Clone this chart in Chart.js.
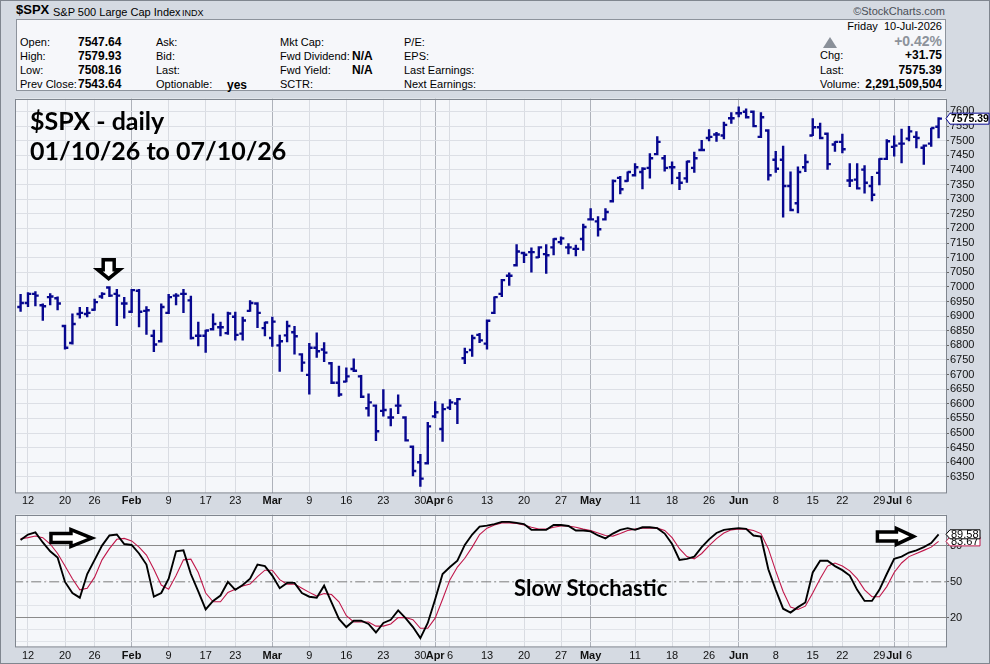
<!DOCTYPE html>
<html>
<head>
<meta charset="utf-8">
<title>$SPX daily</title>
<script src="https://cdn.jsdelivr.net/npm/chart.js@4.4.1/dist/chart.umd.min.js"></script>
<style>
  html, body { margin: 0; padding: 0; }
  body { width: 990px; height: 664px; position: relative; overflow: hidden;
         background: #d5dae2; font-family: "Liberation Sans", Arial, sans-serif; color: #000; }
  .abs { position: absolute; white-space: nowrap; }
  .lbl { font-size: 11px; line-height: 14px; }
  .val { font-size: 12px; font-weight: bold; line-height: 14px; }
  .note { font-family: Lato, "Open Sans", sans-serif; font-weight: bold; line-height: 1; }
  #frame { left: 0; top: 0; width: 988px; height: 662px; border: 1px solid #80868f; }
  #info { left: 16px; top: 19px; width: 928px; height: 70px; background: #f6f7fa; border: 1px solid #8d939c; }
  #priceBox { left: 0; top: 91px; width: 990px; height: 416px; }
  #stochBox { left: 0; top: 507px; width: 990px; height: 157px; }
</style>
</head>
<body>
<div id="frame" class="abs"></div>
<div id="info" class="abs"></div>

<div class="abs" style="left:16px;top:2px;font-size:13px;font-weight:bold;line-height:16px">$SPX</div>
<div class="abs" style="left:53px;top:4px;font-size:11px;line-height:16px">S&amp;P 500 Large Cap Index</div>
<div class="abs" style="left:182px;top:6px;font-size:9px;line-height:14px">INDX</div>
<div class="abs" style="right:45px;top:4px;font-size:11px;line-height:14px;color:#4a4f57">&copy;StockCharts.com</div>

<div class="abs lbl" style="left:20px;top:35px">Open:</div>
<div class="abs lbl" style="left:20px;top:49px">High:</div>
<div class="abs lbl" style="left:20px;top:63px">Low:</div>
<div class="abs lbl" style="left:20px;top:77px">Prev Close:</div>
<div class="abs val" style="left:78px;top:35px">7547.64</div>
<div class="abs val" style="left:78px;top:49px">7579.93</div>
<div class="abs val" style="left:78px;top:63px">7508.16</div>
<div class="abs val" style="left:78px;top:77px">7543.64</div>

<div class="abs lbl" style="left:156px;top:35px">Ask:</div>
<div class="abs lbl" style="left:156px;top:49px">Bid:</div>
<div class="abs lbl" style="left:156px;top:63px">Last:</div>
<div class="abs lbl" style="left:156px;top:77px">Optionable:</div>
<div class="abs val" style="left:227px;top:78px">yes</div>

<div class="abs lbl" style="left:280px;top:35px">Mkt Cap:</div>
<div class="abs lbl" style="left:280px;top:49px">Fwd Dividend:</div>
<div class="abs lbl" style="left:280px;top:63px">Fwd Yield:</div>
<div class="abs lbl" style="left:280px;top:77px">SCTR:</div>
<div class="abs val" style="left:352px;top:49px">N/A</div>
<div class="abs val" style="left:352px;top:63px">N/A</div>

<div class="abs lbl" style="left:404px;top:35px">P/E:</div>
<div class="abs lbl" style="left:404px;top:49px">EPS:</div>
<div class="abs lbl" style="left:404px;top:63px">Last Earnings:</div>
<div class="abs lbl" style="left:404px;top:77px">Next Earnings:</div>

<div class="abs lbl" style="right:48px;top:19px">Friday&nbsp;&nbsp;10-Jul-2026</div>
<div class="abs" style="left:823px;top:37px;width:0;height:0;border-left:7px solid transparent;border-right:7px solid transparent;border-bottom:11px solid #8a9099"></div>
<div class="abs" style="right:48px;top:33px;font-size:14px;font-weight:bold;line-height:16px;color:#8c929b">+0.42%</div>
<div class="abs lbl" style="left:820px;top:48px">Chg:</div>
<div class="abs lbl" style="left:820px;top:63px">Last:</div>
<div class="abs lbl" style="left:820px;top:77px">Volume:</div>
<div class="abs val" style="right:48px;top:48px">+31.75</div>
<div class="abs val" style="right:48px;top:63px">7575.39</div>
<div class="abs val" style="right:48px;top:77px">2,291,509,504</div>

<div id="priceBox" class="abs"><canvas id="price"></canvas></div>
<div id="stochBox" class="abs"><canvas id="stoch"></canvas></div>

<div class="abs note" style="left:30px;top:108px;font-size:25px">$SPX - daily</div>
<div class="abs note" style="left:30px;top:138px;font-size:25px">01/10/26 to 07/10/26</div>
<div class="abs note" style="left:514px;top:577px;font-size:22px">Slow Stochastic</div>

<script>
// trading days 09-Jan-2026 .. 10-Jul-2026, one entry per session
const opens = [6931, 6945, 6976, 6937, 6965, 6961, 6866, 6808, 6907, 6907,
  6922, 6967, 6998, 6976, 6943, 6915, 6987, 6918, 6833, 6814,
  6911, 6970, 6976, 6954, 6833, 6833, 6855, 6862, 6842, 6898,
  6840, 6918, 6943, 6859, 6825, 6800, 6834, 6845, 6769, 6699,
  6792, 6786, 6739, 6672, 6676, 6719, 6694, 6585, 6594, 6576,
  6553, 6594, 6553, 6453, 6400, 6397, 6557, 6514, 6587, 6601,
  6756, 6784, 6836, 6806, 6911, 6976, 7038, 7074, 7116, 7119,
  7101, 7112, 7135, 7153, 7135, 7130, 7164, 7231, 7224, 7231,
  7293, 7373, 7362, 7382, 7393, 7407, 7454, 7440, 7409, 7373,
  7371, 7407, 7468, 7509, 7521, 7518, 7577, 7594, 7599, 7599,
  7513, 7535, 7435, 7435, 7345, 7286, 7409, 7518, 7546, 7524,
  7487, 7496, 7364, 7367, 7401, 7345, 7390, 7438, 7479, 7490,
  7507, 7513, 7476, 7490, 7547.64];
const highs = [6976, 6982, 6985, 6943, 6978, 6967, 6870, 6909, 6931, 6931,
  6959, 6982, 6998, 6993, 6965, 6989, 6993, 6934, 6853, 6943,
  6976, 6978, 6993, 6970, 6881, 6853, 6909, 6881, 6915, 6915,
  6898, 6954, 6945, 6881, 6898, 6836, 6884, 6866, 6769, 6808,
  6844, 6811, 6739, 6730, 6724, 6755, 6699, 6635, 6594, 6650,
  6585, 6632, 6557, 6453, 6428, 6538, 6609, 6601, 6616, 6616,
  6792, 6836, 6842, 6884, 6967, 7023, 7049, 7146, 7119, 7135,
  7135, 7146, 7166, 7172, 7149, 7144, 7216, 7269, 7242, 7269,
  7367, 7379, 7395, 7423, 7409, 7457, 7515, 7451, 7429, 7393,
  7431, 7462, 7502, 7539, 7530, 7565, 7597, 7617, 7610, 7602,
  7597, 7535, 7465, 7483, 7395, 7412, 7454, 7577, 7561, 7527,
  7498, 7524, 7423, 7423, 7416, 7379, 7440, 7505, 7518, 7541,
  7550, 7532, 7487, 7544, 7579.93];
const lows = [6915, 6931, 6934, 6884, 6937, 6920, 6786, 6803, 6892, 6896,
  6918, 6959, 6965, 6866, 6892, 6911, 6862, 6836, 6777, 6814,
  6907, 6937, 6911, 6820, 6797, 6775, 6855, 6831, 6836, 6817,
  6817, 6915, 6859, 6831, 6795, 6710, 6811, 6769, 6710, 6632,
  6758, 6743, 6672, 6624, 6674, 6710, 6620, 6557, 6473, 6557,
  6523, 6565, 6473, 6352, 6316, 6397, 6551, 6470, 6579, 6531,
  6736, 6761, 6808, 6786, 6907, 6965, 7004, 7074, 7082, 7049,
  7099, 7045, 7108, 7144, 7112, 7105, 7124, 7228, 7172, 7231,
  7293, 7317, 7360, 7382, 7334, 7371, 7454, 7395, 7351, 7331,
  7356, 7390, 7465, 7498, 7496, 7505, 7558, 7580, 7580, 7550,
  7513, 7364, 7390, 7237, 7263, 7252, 7393, 7516, 7505, 7401,
  7462, 7457, 7342, 7334, 7319, 7293, 7348, 7438, 7446, 7423,
  7498, 7474, 7418, 7479, 7508.16];
const closes = [6945, 6976, 6970, 6934, 6967, 6943, 6792, 6873, 6911, 6911,
  6948, 6976, 6970, 6970, 6943, 6989, 6915, 6920, 6803, 6931,
  6965, 6970, 6976, 6825, 6833, 6851, 6873, 6862, 6909, 6836,
  6885, 6945, 6911, 6878, 6881, 6814, 6866, 6831, 6741, 6792,
  6780, 6775, 6672, 6632, 6694, 6713, 6624, 6605, 6506, 6579,
  6553, 6594, 6475, 6370, 6344, 6523, 6571, 6582, 6605, 6616,
  6777, 6825, 6817, 6884, 6965, 7023, 7038, 7121, 7110, 7119,
  7135, 7108, 7164, 7166, 7135, 7130, 7205, 7231, 7197, 7256,
  7362, 7334, 7393, 7409, 7404, 7440, 7496, 7407, 7409, 7356,
  7429, 7440, 7468, 7513, 7521, 7554, 7577, 7594, 7580, 7550,
  7580, 7382, 7404, 7345, 7263, 7393, 7427, 7546, 7509, 7420,
  7496, 7471, 7364, 7337, 7356, 7315, 7438, 7498, 7483, 7490,
  7532, 7509, 7483, 7543.64, 7575.39];

// slow stochastic, %K (black) and %D (red)
const stochK = [84.9, 89.4, 91.2, 82.8, 75.4, 70.2, 49.9, 40.7, 36.8, 56.5,
  68.3, 80.2, 88.6, 89.4, 81.5, 80.7, 73.6, 64.4, 37.6, 40.7,
  52.6, 75.4, 76.2, 56.5, 42.0, 27.0, 34.1, 38.6, 49.9, 43.3,
  47.3, 52.6, 64.4, 63.1, 55.2, 44.7, 49.1, 49.1, 40.7, 37.6,
  36.8, 46.8, 32.8, 19.1, 12.3, 17.6, 17.6, 14.9, 7.8, 15.7,
  18.4, 26.2, 19.7, 12.3, 3.1, 15.7, 35.5, 56.5, 62.3, 67.6,
  80.7, 89.4, 96.0, 96.8, 98.1, 99.9, 99.9, 99.1, 98.1, 93.3,
  93.3, 93.3, 97.3, 97.3, 96.5, 92.8, 92.8, 92.0, 88.6, 86.2,
  90.2, 93.3, 94.7, 93.3, 95.4, 95.4, 94.7, 90.2, 81.5, 68.3,
  69.1, 71.0, 78.9, 85.4, 90.7, 93.3, 94.1, 94.7, 94.1, 88.6,
  87.6, 60.5, 43.3, 27.6, 24.4, 28.9, 32.8, 57.8, 67.6, 67.6,
  63.1, 59.7, 55.2, 43.3, 34.1, 34.1, 43.3, 56.5, 69.1, 71.0,
  74.4, 76.2, 78.9, 82.3, 89.58];
const stochD = [86.0, 86.8, 88.1, 86.8, 81.5, 73.6, 63.1, 52.6, 43.3, 44.7,
  53.9, 68.3, 77.6, 85.4, 86.2, 84.1, 78.9, 72.3, 60.5, 47.3,
  43.9, 55.2, 68.3, 68.9, 57.8, 40.7, 33.4, 33.4, 41.2, 43.9,
  46.5, 48.1, 54.4, 59.7, 59.7, 51.8, 48.1, 48.1, 44.7, 41.2,
  38.1, 40.2, 39.4, 33.4, 21.8, 16.5, 16.5, 16.5, 13.1, 13.1,
  14.9, 20.2, 20.2, 18.4, 11.3, 11.3, 19.7, 35.5, 51.8, 62.3,
  69.6, 78.9, 89.4, 94.7, 97.3, 99.1, 99.1, 98.6, 97.3, 95.4,
  93.9, 93.9, 95.4, 96.5, 96.5, 95.4, 93.9, 92.8, 90.7, 88.6,
  88.1, 90.2, 92.8, 93.9, 94.7, 94.7, 94.7, 92.8, 86.8, 77.6,
  71.0, 69.1, 73.6, 80.2, 86.0, 90.7, 93.3, 94.1, 93.9, 92.8,
  90.2, 77.6, 59.1, 42.0, 28.9, 27.0, 29.7, 40.7, 52.6, 63.1,
  65.7, 63.1, 59.1, 52.6, 43.3, 37.6, 37.6, 46.0, 57.8, 65.7,
  71.0, 73.6, 76.2, 78.9, 83.67];

// x-axis date labels (index into the session list)
const tickIndex = [1, 6, 10, 15, 20, 25, 29, 34, 39, 44, 49, 54, 56, 58,
  63, 68, 73, 77, 83, 88, 93, 97, 102, 107, 111, 116, 118, 120];
const tickText = ['12', '20', '26', 'Feb', '9', '17', '23', 'Mar', '9', '16', '23', '30', 'Apr', '6',
  '13', '20', '27', 'May', '11', '18', '26', 'Jun', '8', '15', '22', '29', 'Jul', '6'];
// price axis labels
const priceTicks = [6350, 6400, 6450, 6500, 6550, 6600, 6650, 6700, 6750, 6800, 6850, 6900, 6950,
  7000, 7050, 7100, 7150, 7200, 7250, 7300, 7350, 7400, 7450, 7500, 7550, 7600];
// stochastic grid and labels
const stochGrid = [0, 10, 20, 30, 40, 50, 60, 70, 80, 90, 100];
const stochLabels = [20, 50, 80];

const family = '"Liberation Sans", Arial, sans-serif';
const navy = '#07078f';
const TICK = 0.45;

function isMonth(i) { return isNaN(Number(tickText[i])); }

// each session becomes one polyline: open tick, high-low stem, close tick
function ohlcPoints() {
  const pts = [];
  for (let i = 0; i < closes.length; i++) {
    pts.push({x: i - TICK, y: opens[i]}, {x: i, y: opens[i]}, {x: i, y: highs[i]},
      {x: i, y: lows[i]}, {x: i, y: closes[i]}, {x: i + TICK, y: closes[i]},
      {x: i + TICK, y: null});
  }
  return pts;
}

function series(values) {
  return values.map(function (v, i) { return {x: i, y: v}; });
}

function toTicks(list) {
  return function (s) { s.ticks = list.map(function (v) { return {value: v}; }); };
}

function dateAxis(height, pad) {
  return {
    type: 'linear', min: -0.62, max: 125,
    afterBuildTicks: toTicks(tickIndex),
    afterFit: function (s) { s.height = height; },
    border: {display: false},
    grid: {
      drawTicks: false,
      color: function (c) { return isMonth(c.index) ? '#aeb2ba' : '#d9dce2'; }
    },
    ticks: {
      autoSkip: false, maxRotation: 0, padding: pad, color: '#111',
      callback: function (v, i) { return tickText[i]; },
      font: function (c) { return {family: family, size: 11, weight: isMonth(c.index) ? 'bold' : 'normal'}; }
    }
  };
}

const panelPlugin = {
  id: 'panel',
  beforeDraw: function (chart) {
    const a = chart.chartArea, ctx = chart.ctx;
    ctx.save();
    ctx.fillStyle = '#f5f7fa';
    ctx.fillRect(a.left, a.top, a.width, a.height);
    ctx.restore();
  },
  afterDraw: function (chart) {
    const a = chart.chartArea, ctx = chart.ctx;
    ctx.save();
    ctx.strokeStyle = '#80868f';
    ctx.lineWidth = 1;
    ctx.strokeRect(Math.round(a.left) - 0.5, Math.round(a.top) + 0.5, a.width + 1, a.height - 1);
    ctx.restore();
  }
};

function arrow(ctx, tipX, tipY, dir, len, headLen, headHalf, shaftHalf) {
  ctx.save();
  ctx.translate(tipX, tipY);
  if (dir === 'down') ctx.rotate(Math.PI / 2);
  ctx.beginPath();
  ctx.moveTo(0, 0);
  ctx.lineTo(-headLen, -headHalf);
  ctx.lineTo(-headLen, -shaftHalf);
  ctx.lineTo(-len, -shaftHalf);
  ctx.lineTo(-len, shaftHalf);
  ctx.lineTo(-headLen, shaftHalf);
  ctx.lineTo(-headLen, headHalf);
  ctx.closePath();
  ctx.fillStyle = '#fff';
  ctx.fill();
  ctx.lineWidth = 3.5;
  ctx.lineJoin = 'miter';
  ctx.strokeStyle = '#000';
  ctx.stroke();
  ctx.restore();
}

function valueTag(ctx, x, y, text, w, h, stroke, font) {
  ctx.save();
  ctx.beginPath();
  ctx.moveTo(x, y);
  ctx.lineTo(x + 4, y - h / 2);
  ctx.lineTo(x + 4 + w, y - h / 2);
  ctx.lineTo(x + 4 + w, y + h / 2);
  ctx.lineTo(x + 4, y + h / 2);
  ctx.closePath();
  ctx.fillStyle = '#fff';
  ctx.fill();
  ctx.strokeStyle = stroke;
  ctx.lineWidth = 1;
  ctx.stroke();
  ctx.fillStyle = '#000';
  ctx.font = font;
  ctx.textBaseline = 'middle';
  ctx.fillText(text, x + 5, y + 0.5);
  ctx.restore();
}

const priceNotes = {
  id: 'priceNotes',
  afterDatasetsDraw: function (chart) {
    const x = chart.scales.x, y = chart.scales.y;
    arrow(chart.ctx, x.getPixelForValue(11.9), y.getPixelForValue(7028), 'down', 19, 9, 11, 5.5);
  },
  afterDraw: function (chart) {
    const y = chart.scales.y, last = closes[closes.length - 1];
    valueTag(chart.ctx, chart.chartArea.right, y.getPixelForValue(last), last.toFixed(2), 39, 11, navy,
      'bold 10.5px ' + family);
  }
};

const stochNotes = {
  id: 'stochNotes',
  afterDatasetsDraw: function (chart) {
    const x = chart.scales.x, y = chart.scales.y;
    arrow(chart.ctx, x.getPixelForValue(9.64), y.getPixelForValue(86.5), 'right', 41, 21, 8.5, 4.5);
    arrow(chart.ctx, x.getPixelForValue(120.6), y.getPixelForValue(87.8), 'right', 36, 17, 8, 4.5);
  },
  afterDraw: function (chart) {
    const y = chart.scales.y, n = stochK.length - 1, r = chart.chartArea.right;
    valueTag(chart.ctx, r, y.getPixelForValue(stochD[n]), stochD[n].toFixed(2), 30, 9, '#c0174a', '11px ' + family);
    valueTag(chart.ctx, r, y.getPixelForValue(stochK[n]), stochK[n].toFixed(2), 30, 9, '#000', '11px ' + family);
  }
};

const common = {
  responsive: true, maintainAspectRatio: false, animation: false, events: [],
  plugins: {legend: {display: false}, tooltip: {enabled: false}}
};

new Chart(document.getElementById('price'), {
  type: 'line',
  data: {
    datasets: [{
      data: ohlcPoints(), borderColor: navy, borderWidth: 2.4, pointRadius: 0,
      spanGaps: false, tension: 0, borderJoinStyle: 'miter', borderCapStyle: 'butt'
    }]
  },
  options: Object.assign({}, common, {
    layout: {padding: {left: 16, right: 0, top: 0, bottom: 0}},
    scales: {
      x: dateAxis(14, 1),
      y: {
        position: 'right', min: 6295, max: 7644,
        afterBuildTicks: toTicks(priceTicks),
        afterFit: function (s) { s.width = 44; },
        border: {display: false},
        grid: {color: '#dcdfe5', tickLength: 3, tickColor: '#666'},
        ticks: {
          autoSkip: false, padding: 1, color: '#111',
          font: {family: family, size: 11},
          callback: function (v) { return String(v); }
        }
      }
    }
  }),
  plugins: [panelPlugin, priceNotes]
});

new Chart(document.getElementById('stoch'), {
  type: 'line',
  data: {
    datasets: [
      {data: series(stochK), borderColor: '#000', borderWidth: 1.9, pointRadius: 0, tension: 0},
      {data: series(stochD), borderColor: '#c0174a', borderWidth: 1.1, pointRadius: 0, tension: 0},
      {data: [{x: -1, y: 50}, {x: 126, y: 50}], borderColor: '#7d7d7d', borderWidth: 1,
        borderDash: [10, 3, 2, 3], pointRadius: 0}
    ]
  },
  options: Object.assign({}, common, {
    layout: {padding: {left: 16, right: 0, top: 0, bottom: 0}},
    scales: {
      x: dateAxis(17, 2),
      y: {
        position: 'right', min: -4.3, max: 106,
        afterBuildTicks: toTicks(stochGrid),
        afterFit: function (s) { s.width = 44; },
        border: {display: false},
        grid: {
          tickLength: 3,
          tickColor: function (c) { return stochLabels.indexOf(c.tick.value) >= 0 ? '#666' : 'rgba(0,0,0,0)'; },
          color: function (c) {
            const v = c.tick.value;
            if (v === 50) return 'rgba(0,0,0,0)';
            return stochLabels.indexOf(v) >= 0 ? '#8a8a8a' : '#e1e4e9';
          }
        },
        ticks: {
          autoSkip: false, padding: 1, color: '#111',
          font: {family: family, size: 11},
          callback: function (v) { return stochLabels.indexOf(v) >= 0 ? String(v) : ''; }
        }
      }
    }
  }),
  plugins: [panelPlugin, stochNotes]
});
</script>
</body>
</html>
